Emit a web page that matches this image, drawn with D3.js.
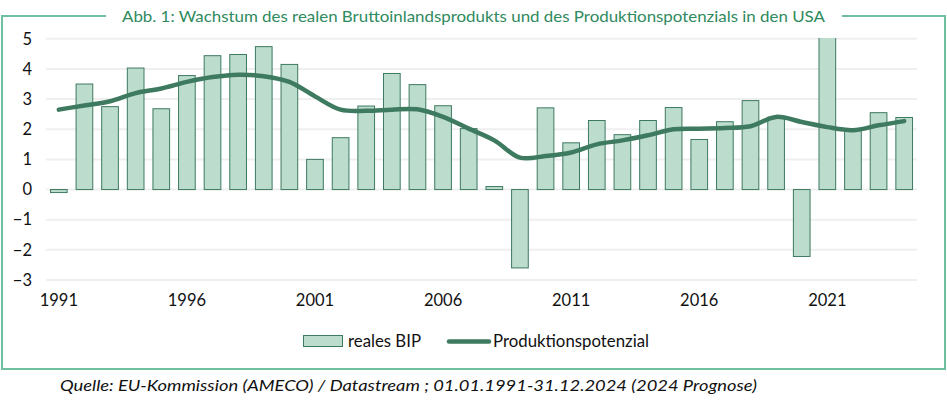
<!DOCTYPE html>
<html><head><meta charset="utf-8">
<script src="https://cdn.jsdelivr.net/npm/d3@7"></script>
<style>body{margin:0;background:#fff}svg{display:block}</style>
</head><body>
<svg id="c" width="947" height="414"></svg>
<script>
const years = d3.range(1991, 2025);
const bip = [-0.1,3.5,2.75,4.03,2.68,3.78,4.44,4.48,4.74,4.15,1.0,1.72,2.77,3.85,3.48,2.78,2.02,0.1,-2.6,2.71,1.55,2.29,1.82,2.29,2.72,1.66,2.25,2.95,2.4,-2.22,5.8,1.95,2.55,2.39];
const potenzial = [2.65,2.79,2.93,3.2,3.35,3.57,3.73,3.81,3.76,3.57,3.09,2.65,2.61,2.65,2.66,2.41,2.02,1.63,1.06,1.11,1.23,1.5,1.63,1.8,2.0,2.02,2.04,2.1,2.41,2.24,2.07,1.97,2.13,2.27];
const yTicks = [5,4,3,2,1,0,-1,-2,-3];
const xTickYears = [1991,1996,2001,2006,2011,2016,2021];
const titleText = "Abb. 1: Wachstum des realen Bruttoinlandsprodukts und des Produktionspotenzials in den USA";
const sourceText = "Quelle:  EU-Kommission (AMECO) / Datastream ; 01.01.1991-31.12.2024 (2024 Prognose)";
const legendLabels = ["reales BIP", "Produktionspotenzial"];

const svg = d3.select("#c");
const font = "Lato, 'Open Sans', sans-serif";
const frameCol = "#6dbf9f", dark = "#3d7a60", fill = "#bcdccd", titleCol = "#2f8a5e", txt = "#111";

const x = d3.scaleBand().domain(years).range([46, 917]).paddingInner(0.31).paddingOuter(0.155);
const y = d3.scaleLinear().domain([-3, 5]).range([280, 38.8]);

// frame
svg.append("path")
  .attr("d", "M106,16 L2,16 L2,369 L945,369 L945,16 L842,16")
  .attr("fill", "none").attr("stroke", frameCol).attr("stroke-width", 2);

svg.append("text").attr("x", 473.5).attr("y", 21.5).attr("text-anchor", "middle")
  .attr("font-family", font).attr("font-size", 16).attr("fill", titleCol)
  .attr("textLength", 703).attr("lengthAdjust", "spacingAndGlyphs").text(titleText);

// grid
svg.append("g").selectAll("line").data(yTicks).join("line")
  .attr("x1", 46).attr("x2", 917).attr("y1", d => y(d)).attr("y2", d => y(d))
  .attr("stroke", "#efefef").attr("stroke-width", 2);

// y axis
const yAxis = svg.append("g").attr("transform", "translate(38,0)")
  .call(d3.axisLeft(y).tickValues(yTicks).tickSize(0).tickPadding(0).tickFormat(d3.format("d")));
yAxis.select(".domain").remove();
yAxis.selectAll("text").attr("font-family", font).attr("font-size", 16.5).attr("fill", txt).attr("dx", "-6");

// x axis
const xAxis = svg.append("g").attr("transform", "translate(0,291)")
  .call(d3.axisBottom(x).tickValues(xTickYears).tickSize(0).tickPadding(0));
xAxis.select(".domain").remove();
xAxis.selectAll("text").attr("font-family", font).attr("font-size", 16.5).attr("fill", txt).attr("dy", "0.9em");

// clip
svg.append("clipPath").attr("id", "pc").append("rect").attr("x", 40).attr("y", 38).attr("width", 890).attr("height", 250);

// bars
svg.append("g").attr("clip-path", "url(#pc)").selectAll("rect").data(years).join("rect")
  .attr("x", d => x(d) + 0.5)
  .attr("width", x.bandwidth() - 1)
  .attr("y", (d, i) => y(Math.max(0, bip[i])))
  .attr("height", (d, i) => Math.abs(y(bip[i]) - y(0)))
  .attr("fill", fill).attr("stroke", dark).attr("stroke-width", 1);

// line
const line = d3.line().x((d, i) => x(years[i]) + x.bandwidth() / 2).y(d => y(d)).curve(d3.curveCatmullRom.alpha(0.5));
svg.append("path").datum(potenzial).attr("d", line)
  .attr("fill", "none").attr("stroke", dark).attr("stroke-width", 4.5).attr("stroke-linecap", "round");

// legend
const lg = svg.append("g").attr("font-family", font).attr("font-size", 16.5).attr("fill", txt);
lg.append("rect").attr("x", 303.5).attr("y", 335.5).attr("width", 39).attr("height", 11).attr("fill", fill).attr("stroke", dark).attr("stroke-width", 1);
lg.append("text").attr("x", 348).attr("y", 346.5).attr("textLength", 73).attr("lengthAdjust", "spacingAndGlyphs").text(legendLabels[0]);
lg.append("line").attr("x1", 449).attr("x2", 489).attr("y1", 341.5).attr("y2", 341.5).attr("stroke", dark).attr("stroke-width", 4.5).attr("stroke-linecap", "round");
lg.append("text").attr("x", 493).attr("y", 346.5).attr("textLength", 156).attr("lengthAdjust", "spacingAndGlyphs").text(legendLabels[1]);

// source
svg.append("text").attr("x", 60).attr("y", 391).attr("font-family", font).attr("font-style", "italic")
  .attr("font-size", 16).attr("fill", txt).attr("textLength", 697).attr("lengthAdjust", "spacingAndGlyphs")
  .text(sourceText);
</script>
</body></html>
